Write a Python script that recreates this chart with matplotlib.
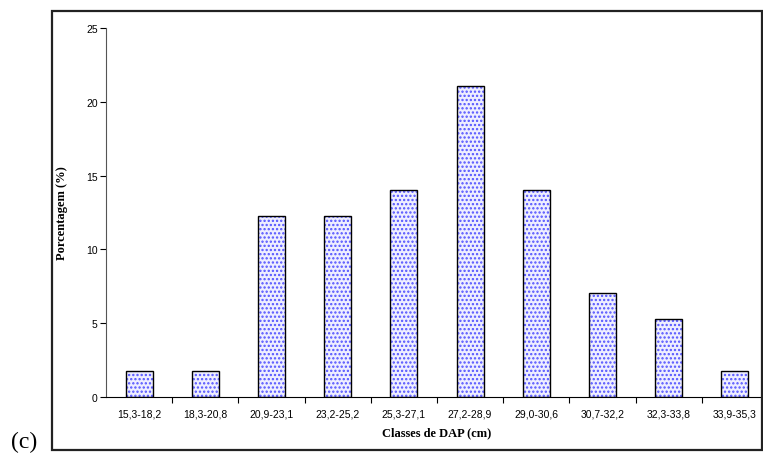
import numpy as np
import matplotlib.pyplot as plt
from matplotlib.patches import Rectangle

classes = ["15,3-18,2", "18,3-20,8", "20,9-23,1", "23,2-25,2", "25,3-27,1",
           "27,2-28,9", "29,0-30,6", "30,7-32,2", "32,3-33,8", "33,9-35,3"]
pct = [1.75, 1.75, 12.28, 12.28, 14.04, 21.05, 14.04, 7.02, 5.26, 1.75]

plt.rcParams["hatch.color"] = "#5252ff"
plt.rcParams["hatch.linewidth"] = 1.1

fig = plt.figure(figsize=(7.63, 4.6), dpi=100)
ax = fig.add_axes([106 / 763, 62 / 460, 662 / 763, 369 / 460])

x = np.arange(len(classes))
ax.bar(x, pct, width=0.41, color="#eeeeff", edgecolor="#5252ff", linewidth=0,
       hatch="....")
ax.bar(x, pct, width=0.41, fill=False, edgecolor="black", linewidth=1.0)

ax.set_xlim(-0.5, len(classes) - 0.5)
ax.set_ylim(0, 25)
ax.set_yticks([0, 5, 10, 15, 20, 25])
ax.tick_params(axis="y", labelsize=7.5, length=4, width=0.8, pad=2)
for lbl in ax.get_yticklabels():
    lbl.set_family("Liberation Sans")

# tick marks between classes, labels at the bar centres
ax.set_xticks(np.arange(0.5, len(classes) - 0.5, 1))
ax.set_xticklabels([])
ax.set_xticks(x, minor=True)
ax.set_xticklabels(classes, minor=True, fontsize=7.5, family="Liberation Sans")
ax.tick_params(axis="x", which="major", length=4, width=0.8)
ax.tick_params(axis="x", which="minor", length=0, pad=8)

for s in ["top", "right"]:
    ax.spines[s].set_visible(False)
ax.spines["left"].set_color("#555555")
ax.spines["bottom"].set_color("black")

ax.set_ylabel("Porcentagem (%)", family="Liberation Serif", fontweight="bold",
              fontsize=9, labelpad=13)
ax.set_xlabel("Classes de DAP (cm)", family="Liberation Serif",
              fontweight="bold", fontsize=9, labelpad=6)

# frame around the chart
fig.patches.append(Rectangle((52 / 763, 9 / 460), 710 / 763, 439 / 460,
                             transform=fig.transFigure, fill=False,
                             edgecolor="#222222", linewidth=1.6))
fig.text(11 / 763, 12 / 460, "(c)", family="Liberation Serif", fontsize=17)

fig.savefig("out.png", dpi=100)
